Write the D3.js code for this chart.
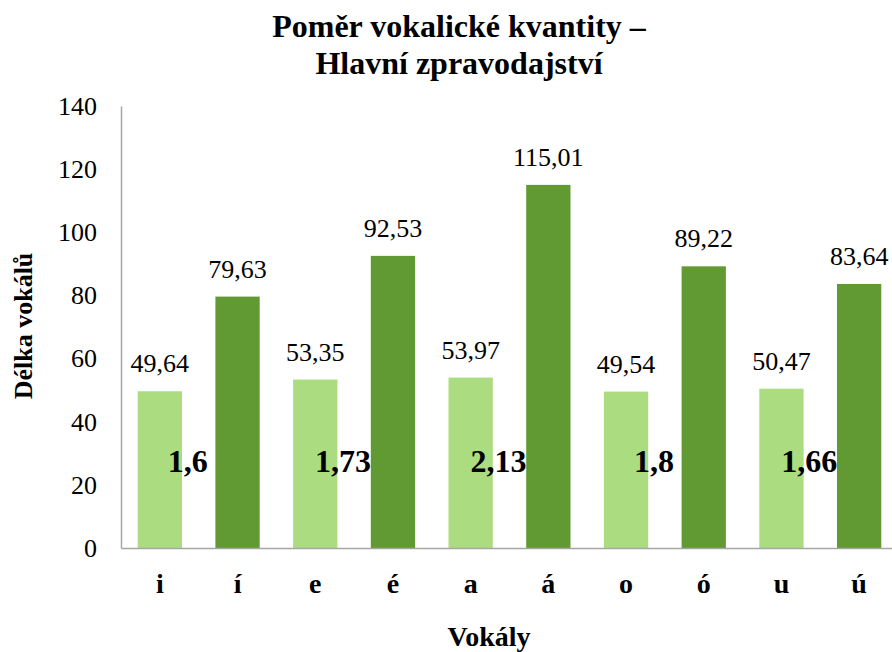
<!DOCTYPE html>
<html>
<head>
<meta charset="utf-8">
<script src="https://cdn.jsdelivr.net/npm/d3@7"></script>
<style>
  body { margin: 0; background: #fff; }
  text { font-family: "Liberation Serif", "Times New Roman", serif; }
</style>
</head>
<body>
<script>
var vowels = ["i", "í", "e", "é", "a", "á", "o", "ó", "u", "ú"];
var lengths = [49.64, 79.63, 53.35, 92.53, 53.97, 115.01, 49.54, 89.22, 50.47, 83.64];
var ratios = ["1,6", "1,73", "2,13", "1,8", "1,66"];
var yTicks = [0, 20, 40, 60, 80, 100, 120, 140];
var colors = ["#acdc80", "#619a32"];

var width = 892, height = 652;
var serif = "'Liberation Serif', 'Times New Roman', serif";
var svg = d3.select("body").append("svg")
    .attr("width", width)
    .attr("height", height);

var x = d3.scaleBand().domain(vowels).range([121, 898]).paddingInner(0.43).paddingOuter(0.215);
var y = d3.scaleLinear().domain([0, 140]).range([548, 106]);

// title
svg.append("text").attr("x", 459).attr("y", 37).attr("text-anchor", "middle")
    .style("font-size", "32px").style("font-weight", "bold").text("Poměr vokalické kvantity –");
svg.append("text").attr("x", 459).attr("y", 74).attr("text-anchor", "middle")
    .style("font-size", "32px").style("font-weight", "bold").text("Hlavní zpravodajství");

// y axis
var yAxis = svg.append("g").attr("transform", "translate(121,0)")
    .call(d3.axisLeft(y).tickValues(yTicks).tickSize(0).tickPadding(24));
yAxis.select(".domain").attr("stroke", "#a6a6a6").attr("stroke-width", 1.5);
yAxis.selectAll("text").style("font-size", "26px").style("font-family", serif).attr("fill", "#000");

// bars
svg.selectAll("rect.bar").data(lengths).enter().append("rect")
    .attr("class", "bar")
    .attr("x", function (d, i) { return x(vowels[i]); })
    .attr("y", function (d) { return y(d); })
    .attr("width", x.bandwidth())
    .attr("height", function (d) { return y(0) - y(d); })
    .attr("fill", function (d, i) { return colors[i % 2]; });

// x axis
var xAxis = svg.append("g").attr("transform", "translate(0,548)")
    .call(d3.axisBottom(x).tickSize(0).tickPadding(25));
xAxis.select(".domain").attr("stroke", "#a6a6a6").attr("stroke-width", 1.5);
xAxis.selectAll("text").style("font-size", "28px").style("font-weight", "bold")
    .style("font-family", serif).attr("fill", "#000");

// value labels
svg.selectAll("text.val").data(lengths).enter().append("text")
    .attr("class", "val")
    .attr("x", function (d, i) { return x(vowels[i]) + x.bandwidth() / 2; })
    .attr("y", function (d) { return y(d) - 19; })
    .attr("text-anchor", "middle")
    .style("font-size", "26px")
    .text(function (d) { return d3.format(".2f")(d).replace(".", ","); });

// ratio labels
svg.selectAll("text.ratio").data(ratios).enter().append("text")
    .attr("class", "ratio")
    .attr("x", function (d, i) {
        return (x(vowels[2 * i]) + x(vowels[2 * i + 1]) + x.bandwidth()) / 2 - 11;
    })
    .attr("y", y(24.2))
    .attr("text-anchor", "middle")
    .style("font-size", "32px").style("font-weight", "bold")
    .text(function (d) { return d; });

// axis titles
svg.append("text").attr("transform", "translate(32,326) rotate(-90)")
    .attr("text-anchor", "middle").style("font-size", "26px").style("font-weight", "bold")
    .text("Délka vokálů");
svg.append("text").attr("x", 489).attr("y", 646).attr("text-anchor", "middle")
    .style("font-size", "28px").style("font-weight", "bold").text("Vokály");
</script>
</body>
</html>
